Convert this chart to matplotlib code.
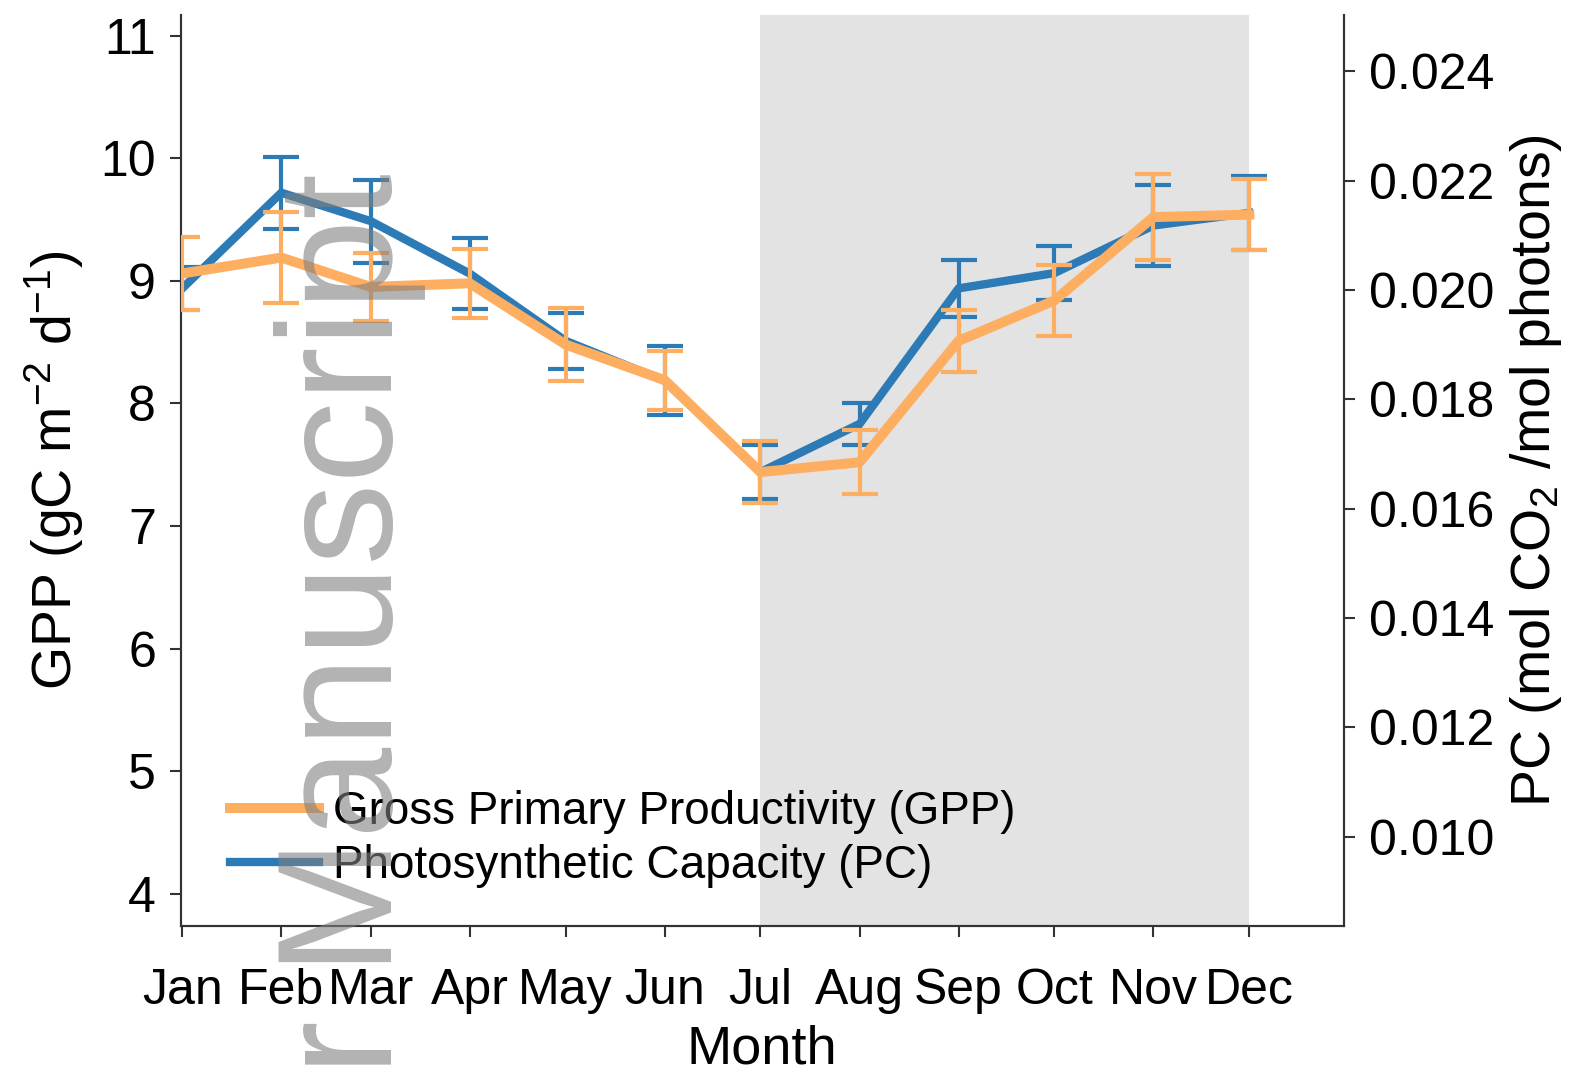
import matplotlib
matplotlib.use("Agg")
import matplotlib.pyplot as plt

plt.rcParams["font.family"] = ["Liberation Sans", "DejaVu Sans"]
plt.rcParams["mathtext.default"] = "regular"

months = ["Jan", "Feb", "Mar", "Apr", "May", "Jun",
          "Jul", "Aug", "Sep", "Oct", "Nov", "Dec"]
day_of_year = [1, 32, 60, 91, 121, 152, 182, 213, 244, 274, 305, 335]

gpp = [9.06, 9.19, 8.95, 8.98, 8.48, 8.19, 7.44, 7.52, 8.51, 8.84, 9.52, 9.54]
gpp_err = [0.30, 0.37, 0.28, 0.28, 0.30, 0.24, 0.25, 0.26, 0.25, 0.29, 0.35, 0.29]

pc = [0.02003, 0.02178, 0.02126, 0.02030, 0.01907, 0.01834,
      0.01667, 0.01755, 0.02003, 0.02031, 0.02118, 0.02141]
pc_err = [0.00039, 0.00066, 0.00076, 0.00065, 0.00051, 0.00063,
          0.00050, 0.00038, 0.00052, 0.00049, 0.00074, 0.00067]

gpp_ticks = [4, 5, 6, 7, 8, 9, 10, 11]
pc_ticks = [0.010, 0.012, 0.014, 0.016, 0.018, 0.020, 0.022, 0.024]

orange = "#fdae61"
blue = "#2c7bb6"
spine_col = "#333333"

fig = plt.figure(figsize=(15.96, 10.72), dpi=100)
ax = fig.add_axes([0.1134, 0.1362, 0.7284, 0.8495])
ax2 = ax.twinx()

# PC on the twin axis, drawn underneath the GPP axis
ax2.set_zorder(0)
ax.set_zorder(1)
ax.patch.set_visible(False)
ax2.patch.set_visible(True)
ax2.patch.set_facecolor("white")

ax2.axvspan(day_of_year[6], day_of_year[11], color="#e3e3e3", lw=0, zorder=0)

ax2.errorbar(day_of_year, pc, yerr=pc_err, color=blue, lw=6,
             elinewidth=3, capsize=13, capthick=3, zorder=2)
ax.errorbar(day_of_year, gpp, yerr=gpp_err, color=orange, lw=7.2,
            elinewidth=3, capsize=13, capthick=3, zorder=3)

ax.set_xlim(0.6, 364.5)
ax.set_ylim(3.737, 11.166)
ax2.set_ylim(0.008366, 0.025025)

ax.set_xticks(day_of_year)
ax.set_xticklabels(months)
ax.set_yticks(gpp_ticks)
ax2.set_yticks(pc_ticks)
ax2.set_yticklabels(["%.3f" % t for t in pc_ticks])

for a in (ax, ax2):
    a.spines["top"].set_visible(False)
    for s in ("left", "right", "bottom"):
        a.spines[s].set_color(spine_col)
        a.spines[s].set_linewidth(1.5)

ax.tick_params(axis="both", direction="out", length=8, width=1.5,
               color=spine_col, labelsize=36, pad=10)
ax.tick_params(axis="x", pad=22)
ax2.tick_params(axis="y", direction="out", length=8, width=1.5,
                color=spine_col, labelsize=36, pad=10)

ax.set_xlabel("Month", fontsize=39, labelpad=8)
ax.set_ylabel("GPP (gC m$^{-2}$ d$^{-1}$)", fontsize=40, labelpad=10)
ax2.set_ylabel("PC (mol CO$_2$ /mol photons)", fontsize=40, labelpad=10)

h1 = plt.Line2D([], [], color=orange, lw=7.2)
h2 = plt.Line2D([], [], color=blue, lw=6)
ax.legend([h1, h2], ["Gross Primary Productivity (GPP)", "Photosynthetic Capacity (PC)"],
          loc="lower left", bbox_to_anchor=(0.026, 0.022), frameon=False,
          fontsize=33, handlelength=1.95, handletextpad=0.3, labelspacing=0.2,
          borderaxespad=0)

# watermark of the source document
fig.text(0.2456, 0.8386, "Author Manuscript", fontsize=118, color="#808080",
         alpha=0.6, rotation=90, rotation_mode="anchor", ha="right",
         va="baseline", zorder=10)

fig.savefig("out.png", dpi=100)
